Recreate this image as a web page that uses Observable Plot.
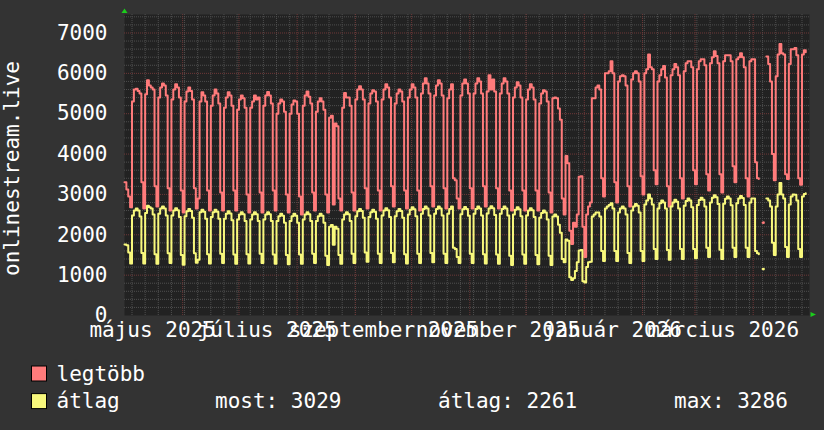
<!DOCTYPE html>
<html><head><meta charset="utf-8">
<script src="https://cdn.jsdelivr.net/npm/d3@7"></script>
<script src="https://cdn.jsdelivr.net/npm/@observablehq/plot@0.6"></script>
<style>
html,body{margin:0;padding:0;background:#333333;}
#wrap{position:relative;width:824px;height:430px;overflow:hidden;background:#333333;}
#wrap svg{display:block;}
svg text{font-family:"DejaVu Sans Mono",monospace;}
</style></head><body><div id="wrap"></div>
<script>
const startDate = "2025-05-01";
const endDate = "2026-05-01";
const yLabel = "onlinestream.live";
const yTicks = [0,1000,2000,3000,4000,5000,6000,7000];
const monthLabels = ["május 2025","július 2025","szeptember 2025","november 2025","január 2026","március 2026"];
const monthLabelDates = ["2025-05-16","2025-07-16","2025-09-16","2025-11-16","2026-01-16","2026-03-16"];
const seriesNames = ["legtöbb","átlag"];
const seriesColors = ["#ff7b7b","#f8f87c"];
const statLabels = ["most:","átlag:","max:"];
const statValues = [3029,2261,3286];

// daily values from 2025-05-01
const legtobb = [
3300,3120,2950,2680,
5300,5600,5620,5560,5500,3300,2650,
5480,5830,5700,5650,5600,3200,2700,
5400,5650,5750,5700,5450,3150,2600,
5350,5600,5730,5650,5400,3100,2550,
5300,5550,5650,5560,5350,3150,2650,
2900,5300,5530,5450,5300,3100,2600,
5200,5450,5600,5500,5250,3050,2600,
5150,5400,5530,5450,5200,3100,2600,
5100,5350,5450,5380,5150,3000,2550,
5150,5300,5450,5350,5400,3050,2550,
5200,5450,5540,5450,5250,3100,2600,
5000,5250,5350,5300,5050,3000,2550,
5000,5230,5330,5300,5000,2950,2500,
5200,5450,5550,5420,5250,3050,2600,
5050,5300,5380,5300,5100,3000,2550,
4900,4950,2750,4760,4690,2900,2600,
5150,5510,5400,5400,5200,3050,2600,
5350,5600,5680,5600,5350,3150,2650,
5250,5500,5580,5550,5300,3100,2600,
5350,5600,5730,5650,5400,3200,2700,
5250,5500,5600,5550,5300,3100,2650,
5400,5600,5730,5650,5400,3100,2600,
5500,5750,5880,5750,5500,3200,2700,
5450,5700,5830,5750,5450,3150,2650,
5380,5600,5730,3400,3350,2900,2650,
5450,5750,5850,5750,5500,3150,2650,
5500,5750,5880,5800,5500,3200,2700,
5550,5950,5600,5850,5550,3150,2650,
5500,5750,5880,5800,5500,3100,2600,
5400,5650,5780,5700,5400,3100,2600,
5350,5600,5730,5650,5350,3100,2600,
5250,5500,5580,5550,5300,3050,2550,
5380,5400,5380,5130,4850,2900,2500,
3950,3770,2100,1770,2300,2200,2500,
3440,3450,2200,1450,2500,2700,2800,
5380,5380,5650,5700,5600,3400,2950,
6000,6000,6050,6300,6000,3300,2800,
5800,5930,5950,5930,5700,3200,2700,
5850,6000,6050,6000,5800,3450,3000,
6000,6100,6470,6150,6100,3600,3250,
5800,5950,6100,6180,5900,3200,2700,
5950,6100,6230,6150,5950,3400,2900,
6050,6250,6300,6300,6150,3600,3250,
6100,6300,6350,6350,6200,3500,3100,
6250,6400,6550,6430,6250,3500,3050,
6300,6450,6450,6450,6300,3700,3300,
6350,6400,6500,6400,6150,3400,2950,
6300,6350,6350,3800,3400,3380,null,
2300,null,6420,6230,5800,4000,3350,
5930,6470,6730,6500,6470,3500,3380,
6230,6600,6600,6630,6450,3400,3240,
6470,6570,6520
];
const atlag = [
1760,1740,1560,1290,
2480,2600,2650,2600,2450,1550,1290,
2540,2720,2680,2650,2500,1520,1280,
2520,2650,2700,2650,2480,1540,1300,
2480,2600,2660,2610,2440,1500,1260,
2460,2580,2640,2590,2420,1540,1310,
1380,2560,2620,2570,2400,1520,1290,
2440,2560,2620,2570,2400,1530,1300,
2400,2520,2580,2530,2360,1510,1280,
2380,2500,2560,2510,2340,1520,1290,
2380,2500,2560,2510,2340,1530,1300,
2380,2500,2560,2510,2340,1510,1280,
2340,2460,2520,2470,2300,1500,1270,
2340,2460,2520,2470,2300,1510,1280,
2380,2500,2560,2510,2340,1530,1300,
2340,2460,2520,2470,2300,1480,1250,
2200,2240,1750,2200,2150,1500,1280,
2380,2500,2560,2510,2340,1530,1300,
2460,2580,2640,2590,2420,1560,1330,
2440,2560,2620,2570,2400,1530,1300,
2480,2600,2660,2610,2440,1550,1320,
2460,2580,2640,2590,2420,1520,1290,
2500,2620,2680,2630,2460,1530,1300,
2520,2640,2700,2650,2480,1550,1320,
2520,2640,2700,2650,2480,1530,1300,
2520,2640,2700,1680,1650,1450,1300,
2510,2630,2690,2640,2470,1530,1300,
2520,2640,2700,2650,2480,1520,1290,
2530,2650,2710,2660,2490,1510,1280,
2520,2640,2700,2650,2480,1480,1250,
2500,2620,2680,2630,2460,1510,1280,
2480,2600,2660,2610,2440,1500,1270,
2420,2540,2600,2550,2380,1480,1250,
2450,2500,2450,2250,2050,1400,1320,
1880,1850,950,880,920,1100,1320,
1610,1620,850,820,1200,1320,1330,
2450,2500,2550,2550,2450,1600,1350,
2650,2700,2740,2780,2650,1600,1350,
2550,2650,2700,2650,2500,1550,1300,
2600,2700,2760,2720,2550,1600,1350,
2750,2850,3000,2900,2750,1650,1400,
2650,2780,2850,2800,2650,1620,1380,
2700,2800,2870,2820,2650,1650,1400,
2720,2840,2900,2850,2680,1650,1420,
2740,2860,2920,2870,2700,1680,1450,
2800,2920,2980,2930,2760,1630,1400,
2770,2890,2950,2900,2730,1680,1450,
2780,2900,2960,2910,2740,1680,1450,
2800,2900,2900,1600,1540,1520,null,
1150,null,2900,2850,2700,1800,1500,
2700,3000,3286,3000,2900,1700,1450,
2750,2950,3000,2990,2850,1650,1450,
2950,3010,3029
];

const parse = d3.utcParse("%Y-%m-%d");
const t0 = parse(startDate), t1 = parse(endDate);
const yMax = 7458;
const data = legtobb.map((v, i) => ({date: d3.utcDay.offset(t0, i), max: v, avg: atlag[i]}));
const isolated = key => data.filter((d, i) => d[key] != null && (i === 0 || data[i-1][key] == null) && (i === data.length-1 || data[i+1][key] == null));
const yMinor = d3.range(200, yMax, 200).filter(v => v % 1000 !== 0);
const yMajor = d3.range(1000, yMax, 1000);
const weekLines = d3.utcMonday.range(t0, t1);
const monthLines = d3.utcMonth.range(d3.utcDay.offset(t0, 1), t1);
const labelDates = monthLabelDates.map(parse);
const labelMap = new Map(labelDates.map((d, i) => [+d, monthLabels[i]]));

const minorColor = "#4e4e4e", majorColor = "#6e3838";
const plot = Plot.plot({
  width: 824, height: 350,
  marginLeft: 124, marginRight: 15, marginTop: 14, marginBottom: 35,
  style: {background: "transparent", color: "#ffffff", fontFamily: "'DejaVu Sans Mono', monospace", fontSize: "21px", overflow: "visible"},
  x: {type: "utc", domain: [t0, t1]},
  y: {domain: [0, yMax]},
  marks: [
    Plot.frame({fill: "#222222", stroke: null}),
    Plot.ruleY(yMinor, {stroke: minorColor, strokeDasharray: "1,1"}),
    Plot.ruleX(weekLines, {stroke: minorColor, strokeDasharray: "1,1"}),
    Plot.ruleY(yMajor, {stroke: majorColor, strokeDasharray: "1,1"}),
    Plot.ruleX(monthLines, {stroke: majorColor, strokeDasharray: "1,1"}),
    Plot.axisY({ticks: yTicks, tickSize: 0, tickPadding: 17, fontSize: 21, label: null, tickFormat: d => String(d)}),
    Plot.axisX({ticks: labelDates, tickSize: 0, tickPadding: 7, fontSize: 21, label: null, tickFormat: d => labelMap.get(+d)}),
    Plot.text([yLabel], {frameAnchor: "left", text: d => d, rotate: -90, dx: -112, dy: 3.5, lineAnchor: "middle", textAnchor: "middle", fontSize: 21, fill: "#ffffff"}),
    Plot.line(data, {x: "date", y: "max", curve: "step-after", stroke: seriesColors[0], strokeWidth: 2}),
    Plot.line(data, {x: "date", y: "avg", curve: "step-after", stroke: seriesColors[1], strokeWidth: 2}),
    Plot.dot(isolated("max"), {x: "date", y: "max", r: 1.3, fill: seriesColors[0], stroke: null, dx: 1}),
    Plot.dot(isolated("avg"), {x: "date", y: "avg", r: 1.3, fill: seriesColors[1], stroke: null, dx: 1})
  ]
});
document.getElementById("wrap").appendChild(plot);

// axis arrows
const svg = d3.select(plot);
const xs = plot.scale("x"), ys = plot.scale("y");
const xa = xs.apply(t0), xb = xs.apply(t1), ya = ys.apply(0), yb = ys.apply(yMax);
svg.append("path").attr("d", `M${xa-2.5},${yb-1}L${xa+3.5},${yb-1}L${xa+0.5},${yb-5.5}Z`).attr("fill", "#1ccc1c");
svg.append("path").attr("d", `M${xb+1.5},${ya-3}L${xb+1.5},${ya+2}L${xb+7},${ya-0.5}Z`).attr("fill", "#1ccc1c");

// legend
const ns = "http://www.w3.org/2000/svg";
const leg = d3.select("#wrap").append("svg").attr("xmlns", ns).attr("width", 824).attr("height", 80)
  .style("font-family", "'DejaVu Sans Mono', monospace").style("font-size", "21px");
const rowBase = [30.7, 58.3];
seriesNames.forEach((name, i) => {
  leg.append("rect").attr("x", 31.5).attr("y", rowBase[i] - 14.7).attr("width", 15).attr("height", 15)
    .attr("fill", seriesColors[i]).attr("stroke", "#000").attr("stroke-width", 1);
  leg.append("text").attr("x", 56.5).attr("y", rowBase[i]).attr("fill", "#fff").text(name);
});
const statX = [215, 438, 674];
statLabels.forEach((s, i) => {
  leg.append("text").attr("x", statX[i]).attr("y", rowBase[1]).attr("fill", "#fff").text(s + " " + statValues[i]);
});
</script></body></html>
